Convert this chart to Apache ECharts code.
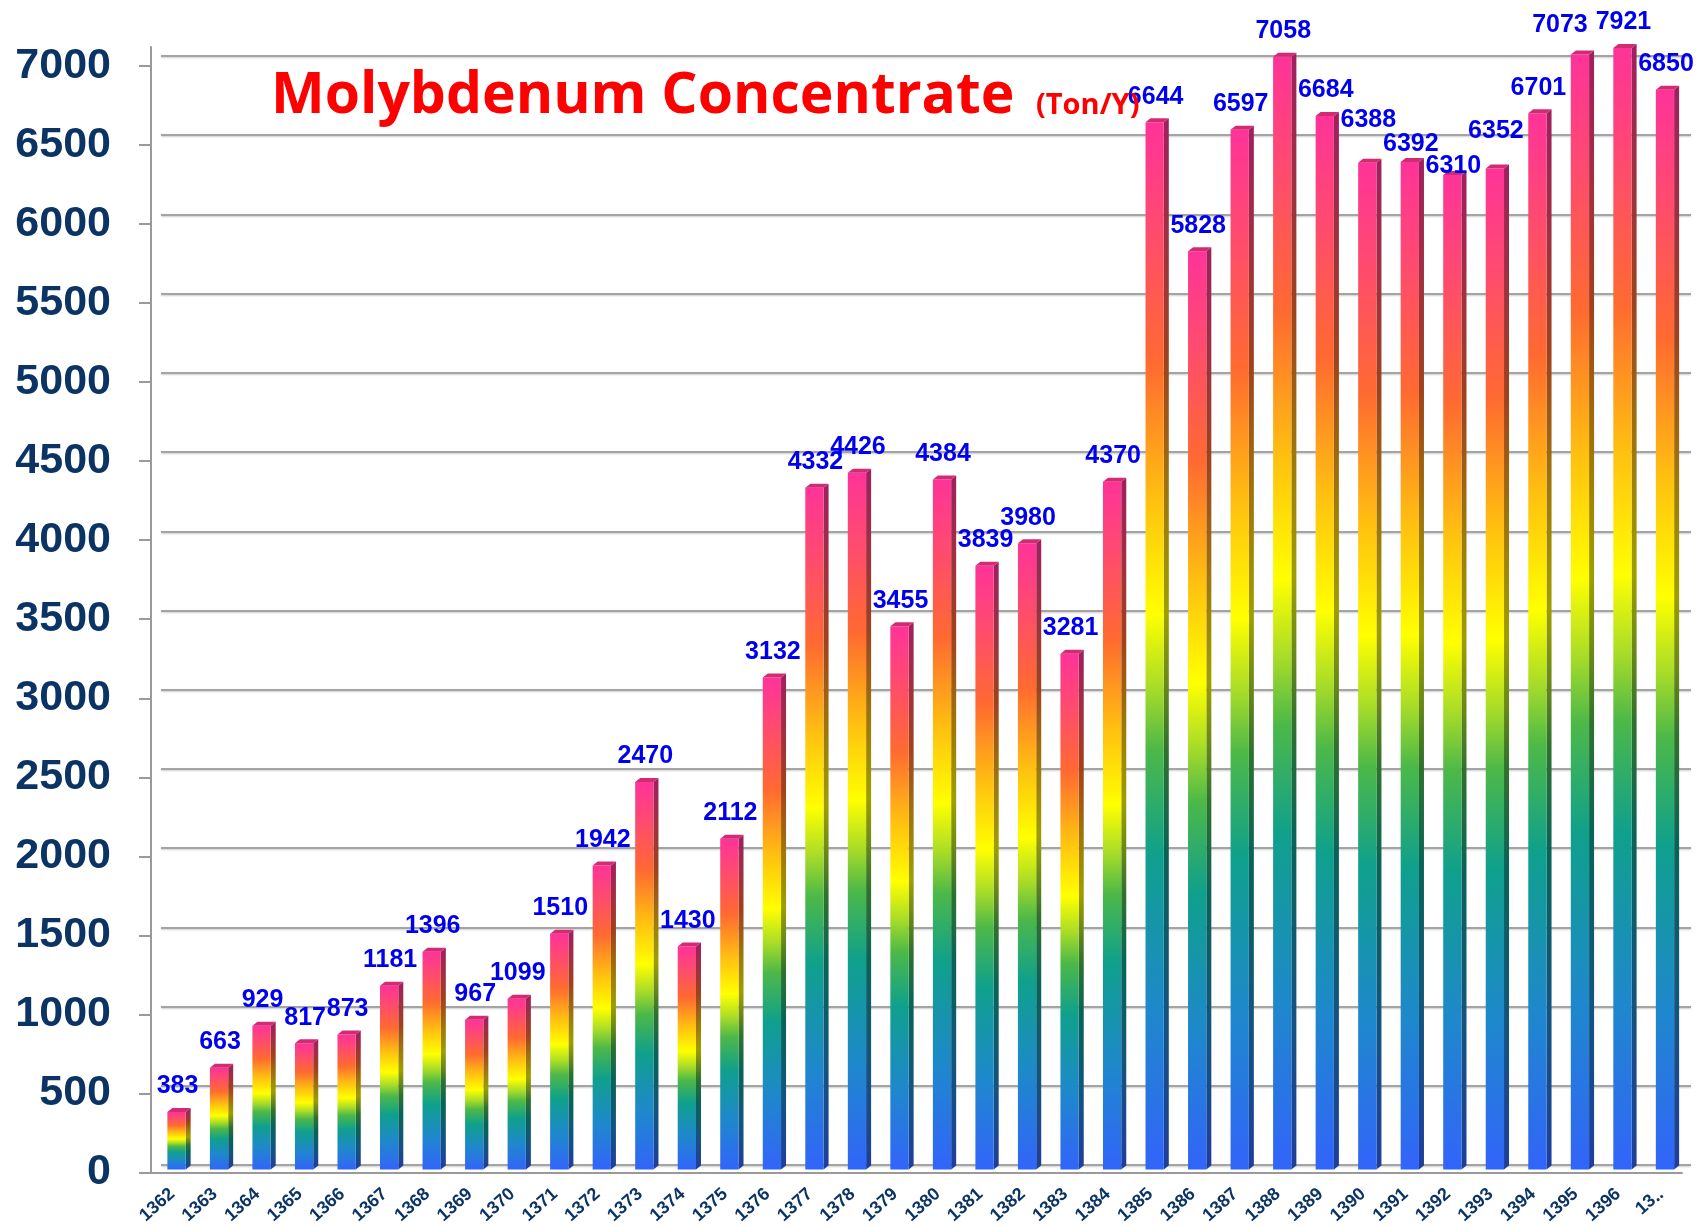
<!DOCTYPE html>
<html>
<head>
<meta charset="utf-8">
<style>
html, body { margin: 0; padding: 0; background: #fff; }
#chart { width: 1700px; height: 1227px; }
</style>
<script src="https://cdn.jsdelivr.net/npm/echarts@6/dist/echarts.min.js"></script>
</head>
<body>
<div id="chart"></div>
<script>
var years = ['1362', '1363', '1364', '1365', '1366', '1367', '1368', '1369', '1370', '1371',
             '1372', '1373', '1374', '1375', '1376', '1377', '1378', '1379', '1380', '1381',
             '1382', '1383', '1384', '1385', '1386', '1387', '1388', '1389', '1390', '1391',
             '1392', '1393', '1394', '1395', '1396', '13\u2025'];
var tonnage = [383, 663, 929, 817, 873, 1181, 1396, 967, 1099, 1510,
               1942, 2470, 1430, 2112, 3132, 4332, 4426, 3455, 4384, 3839,
               3980, 3281, 4370, 6644, 5828, 6597, 7058, 6684, 6388, 6392,
               6310, 6352, 6701, 7073, 7921, 6850];
var titleText = 'Molybdenum Concentrate';
var unitText = '(Ton/Y)';

// rainbow used on every bar, bottom -> top
var rainbow = [
  [0.00, '#3264fa'], [0.15, '#1e88cc'], [0.30, '#0fa08c'], [0.40, '#4cb848'],
  [0.46, '#a8dc28'], [0.53, '#ffff00'], [0.64, '#ffc010'], [0.77, '#ff6a30'],
  [0.90, '#ff4a70'], [1.00, '#ff3399']
];

// a few labels were moved by hand in the original to avoid overlaps ([dx, dy] px)
var labelNudge = { '1390': [0, -17], '1391': [0, 8], '1392': [0, 17], '1393': [0, -12], '1395': [-21, -4] };

function darken(hex, f) {
  var n = parseInt(hex.slice(1), 16);
  var r = Math.round(((n >> 16) & 255) * f), g = Math.round(((n >> 8) & 255) * f), b = Math.round((n & 255) * f);
  return 'rgb(' + r + ',' + g + ',' + b + ')';
}

function grad(dark) {
  return new echarts.graphic.LinearGradient(0, 1, 0, 0, rainbow.map(function (s) {
    return { offset: s[0], color: dark ? darken(s[1], 0.62) : s[1] };
  }));
}

function renderBar(params, api) {
  var i = api.value(0), v = api.value(1);
  var base = api.coord([i, 0]);
  var head = api.coord([i, v]);
  var band = api.size([1, 0])[0];
  var fw = band * 0.43, dep = 5, rise = 4;
  var cx = base[0] + band * 0.1;
  var x0 = cx - fw / 2, x1 = cx + fw / 2;
  var yb = base[1] - 3;
  var yt = Math.max(head[1], params.coordSys.y + 1);
  var nd = labelNudge[years[i]] || [0, 0];
  return {
    type: 'group',
    children: [
      { type: 'polygon', shape: { points: [[x1, yb], [x1 + dep, yb - rise], [x1 + dep, yt - rise], [x1, yt]] },
        style: { fill: grad(true) } },
      { type: 'rect', shape: { x: x0, y: yt, width: fw, height: yb - yt },
        style: { fill: grad(false) } },
      { type: 'polygon', shape: { points: [[x0, yt], [x0 + dep, yt - rise], [x1 + dep, yt - rise], [x1, yt]] },
        style: { fill: '#d42a72' } },
      { type: 'text', x: cx + 1 + nd[0], y: yt - rise - 9 + nd[1], z2: 10,
        style: { text: String(v), fill: '#0000ee', align: 'center', verticalAlign: 'bottom',
                 font: 'bold 25px "Liberation Sans", Arial, sans-serif' } }
    ]
  };
}

var chart = echarts.init(document.getElementById('chart'));
chart.setOption({
  backgroundColor: '#ffffff',
  animation: false,
  grid: [
    { left: 151, right: 18, top: 47, bottom: 52 },
    { left: 161, right: 9, top: 37, bottom: 62 }
  ],
  xAxis: [
    { type: 'category', gridIndex: 0, data: years,
      axisLine: { lineStyle: { color: '#9a9a9a', width: 2 } },
      axisTick: { length: 7, lineStyle: { color: '#9a9a9a', width: 2 } },
      axisLabel: { rotate: 42, margin: 19, color: '#0b3465', fontSize: 18, fontWeight: 'bold',
                   fontFamily: '"Liberation Sans", Arial, sans-serif', interval: 0 } },
    { type: 'category', gridIndex: 1, data: years, show: false }
  ],
  yAxis: [
    { type: 'value', gridIndex: 0, min: 0, max: 7120, interval: 500,
      axisLine: { show: true, lineStyle: { color: '#9a9a9a', width: 2 } },
      axisTick: { show: true, length: 12, lineStyle: { color: '#9a9a9a', width: 2 } },
      splitLine: { show: false },
      axisLabel: { margin: 40, showMaxLabel: false, color: '#0b3465', fontSize: 43, fontWeight: 'bold',
                   fontFamily: '"Liberation Sans", Arial, sans-serif',
                   formatter: function (v) { return String(v); } } },
    { type: 'value', gridIndex: 1, min: 0, max: 7120, interval: 500,
      axisLine: { show: false }, axisTick: { show: false }, axisLabel: { show: false },
      splitLine: { show: true, showMaxLine: false,
                   lineStyle: { color: '#a4a4a4', width: 2, shadowColor: 'rgba(0,0,0,0.2)', shadowBlur: 2, shadowOffsetY: 1 } } }
  ],
  graphic: [
    { type: 'text', x: 271, y: 97, z: 10,
      style: { text: titleText, fill: '#ff0000', align: 'left', verticalAlign: 'middle',
               font: 'bold 57px "Open Sans", "Noto Sans", sans-serif' } },
    { type: 'text', x: 1036, y: 106, z: 10,
      style: { text: unitText, fill: '#ff0000', align: 'left', verticalAlign: 'middle',
               font: 'bold 29px "Open Sans", "Noto Sans", sans-serif' } }
  ],
  series: [{
    type: 'custom',
    xAxisIndex: 0,
    yAxisIndex: 0,
    renderItem: renderBar,
    encode: { x: 0, y: 1 },
    data: tonnage.map(function (v, i) { return [i, v]; }),
    z: 3
  }]
});
</script>
</body>
</html>
